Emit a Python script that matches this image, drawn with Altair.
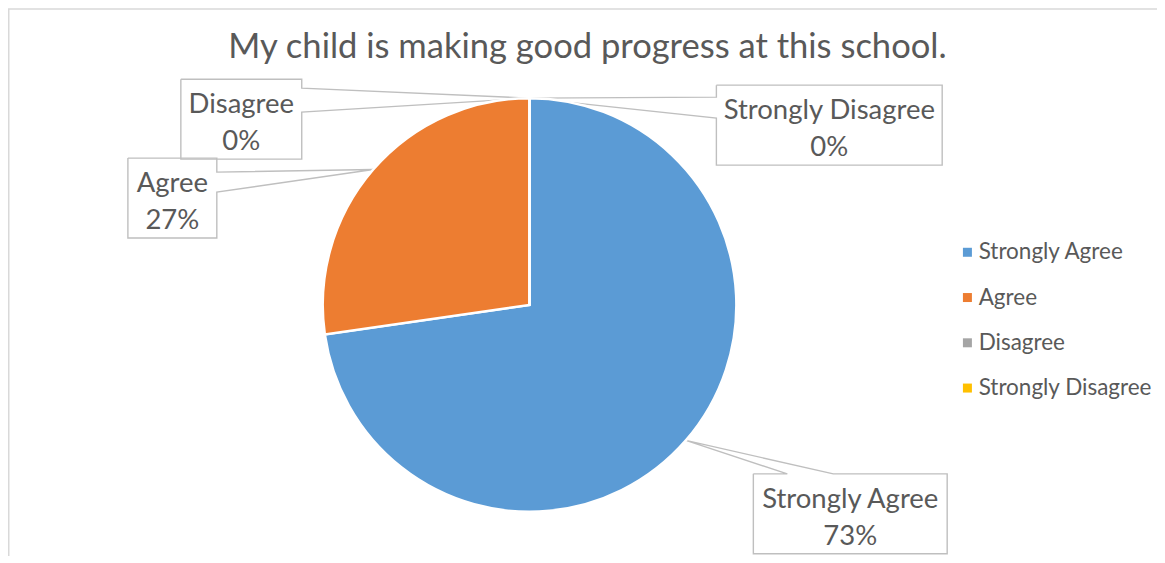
import math
import altair as alt
import pandas as pd

# ---------------- data ----------------
categories = ["Strongly Agree", "Agree", "Disagree", "Strongly Disagree"]
counts = [8, 3, 0, 0]
colors = ["#5B9BD5", "#ED7D31", "#A5A5A5", "#FFC000"]
title_text = "My child is making good progress at this school."

# ---------------- layout (image pixels) ----------------
ORIGIN_X, ORIGIN_Y = 8, 68          # view origin on the page
W, H = 1150, 488
CX, CY, R = 530, 305, 207           # pie centre / radius
FONT = "Lato"
TXT = "#595959"
LINE = "#BFBFBF"

# callout boxes: (left, top, right, bottom), side the pointer leaves from, the two attach points
callouts = {
    "Strongly Agree": dict(box=(754, 474, 948, 554), side="top", a=(788, 834)),
    "Agree": dict(box=(128, 158, 217, 238), side="right", a=(172, 192)),
    "Disagree": dict(box=(181, 79, 302, 159), side="right", a=(88, 112)),
    "Strongly Disagree": dict(box=(717, 85, 943, 165), side="left", a=(97, 118)),
}

total = sum(counts)
df = pd.DataFrame({"category": categories, "count": counts, "idx": range(len(categories))})

# anchor on the rim at each slice's mid angle (derived from the data)
cum = 0
line_rows, text_rows = [], []
for cat, v in zip(categories, counts):
    mid = (cum + v / 2) / total * 2 * math.pi
    cum += v
    ax = CX + R * math.sin(mid)
    ay = CY - R * math.cos(mid)
    c = callouts[cat]
    l, t, r, b = c["box"]
    a1, a2 = c["a"]
    if c["side"] == "top":
        pts = [(l, t), (a1, t), (ax, ay), (a2, t), (r, t), (r, b), (l, b), (l, t)]
    elif c["side"] == "right":
        pts = [(l, t), (r, t), (r, a1), (ax, ay), (r, a2), (r, b), (l, b), (l, t)]
    else:
        pts = [(l, t), (r, t), (r, b), (l, b), (l, a2), (ax, ay), (l, a1), (l, t)]
    for k, (px, py) in enumerate(pts):
        line_rows.append({"label": cat, "k": k, "px": px - ORIGIN_X, "py": py - ORIGIN_Y})
    pct = round(v / total * 100)
    text_rows.append({
        "label": cat,
        "txt": f"{cat}\n{pct}%",
        "tx": (l + r) / 2 - ORIGIN_X,
        "ty": (t + b) / 2 - 6 - ORIGIN_Y,
    })

lines_df = pd.DataFrame(line_rows)
text_df = pd.DataFrame(text_rows)
title_df = pd.DataFrame({"t": [title_text], "tx": [588 - ORIGIN_X], "ty": [58 - ORIGIN_Y]})

arc = alt.Chart(df).mark_arc(radius=R, stroke="white", strokeWidth=2.5).encode(
    theta=alt.Theta("count:Q", stack=True),
    order=alt.Order("idx:Q"),
    color=alt.Color(
        "category:N",
        sort=categories,
        scale=alt.Scale(domain=categories, range=colors),
        legend=alt.Legend(
            title=None, orient="none", legendX=949, legendY=173,
            symbolType="square", symbolSize=81, symbolStrokeWidth=0,
            labelFont=FONT, labelFontSize=22.5, labelColor=TXT, labelLimit=400,
            labelOffset=0, rowPadding=22.3, padding=0,
        ),
    ),
    x=alt.value(CX - ORIGIN_X),
    y=alt.value(CY - ORIGIN_Y),
)

callout_lines = alt.Chart(lines_df).mark_line(color=LINE, strokeWidth=1.4).encode(
    x=alt.X("px:Q", scale=None, axis=None),
    y=alt.Y("py:Q", scale=None, axis=None),
    detail="label:N",
    order="k:Q",
)

labels = alt.Chart(text_df).mark_text(
    font=FONT, fontSize=27.5, color=TXT, align="center", baseline="alphabetic",
    lineBreak="\n", lineHeight=37,
).encode(
    x=alt.X("tx:Q", scale=None, axis=None),
    y=alt.Y("ty:Q", scale=None, axis=None),
    text="txt:N",
)

title = alt.Chart(title_df).mark_text(
    font=FONT, fontSize=34.6, color=TXT, align="center", baseline="alphabetic",
).encode(
    x=alt.X("tx:Q", scale=None, axis=None),
    y=alt.Y("ty:Q", scale=None, axis=None),
    text="t:N",
)

border = alt.Chart(pd.DataFrame({"a": [0]})).mark_rect(
    fill=None, stroke="#D9D9D9", strokeWidth=1.5
).encode(
    x=alt.value(0.75), x2=alt.value(W + 20),
    y=alt.value(-ORIGIN_Y + 8.75), y2=alt.value(H + 20),
)

chart = alt.layer(border, callout_lines, arc, labels, title).properties(
    width=W, height=H,
    autosize=alt.AutoSizeParams(type="none"),
    padding={"left": 0, "top": 60, "right": 0, "bottom": 0},
).configure_view(stroke=None)

chart.save("out.html", embed_options={"renderer": "svg", "actions": False})
